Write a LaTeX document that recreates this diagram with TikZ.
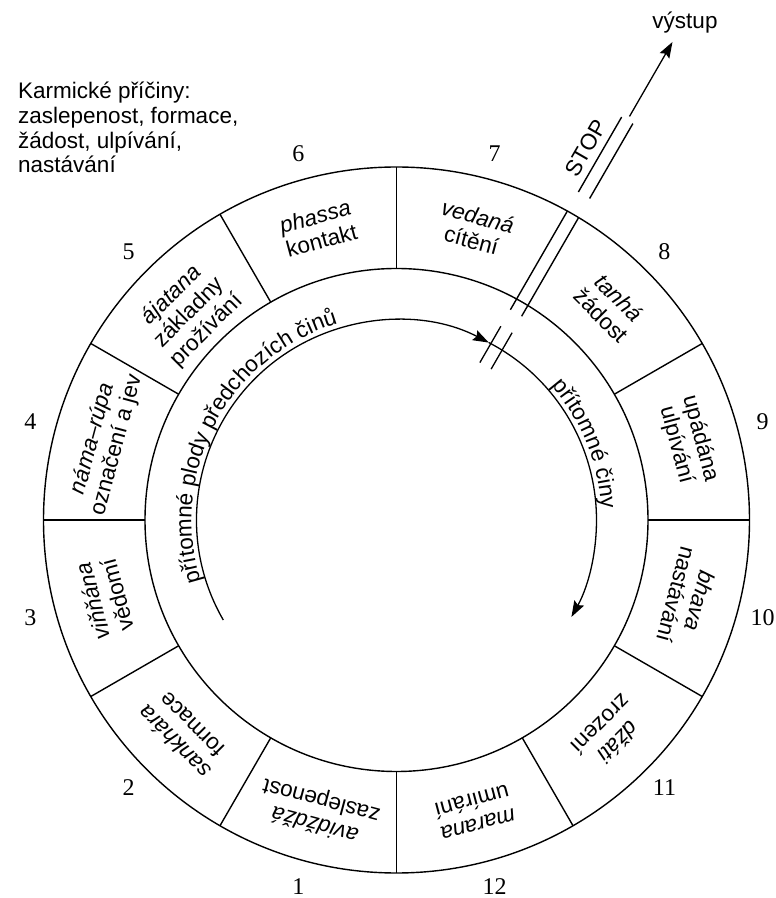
\documentclass[tikz,border=0pt]{standalone}
\usepackage{fontspec}
\setmainfont{Liberation Sans}
\newfontfamily\numfont{Liberation Serif}
\usetikzlibrary{arrows.meta,decorations.text}

\begin{document}
\begin{tikzpicture}[x=1pt,y=1pt,
  ring/.style={line width=1.4pt},
  lbl/.style={font=\fontsize{22.5}{24.7}\selectfont, align=center, inner sep=0pt},
  num/.style={font=\numfont\fontsize{24}{24}\selectfont, inner sep=0pt},
  tip/.style={-{Stealth[length=16pt,width=11pt,inset=2.5pt]}},
  cyc/.style={line width=1.3pt, tip},
]
\useasboundingbox (0,0) rectangle (776,898);

% caption in the upper left corner (base anchor sits on the last line)
\node[lbl, align=left, anchor=base west] (causes) at (18,725)
  {Karmické příčiny:\\zaslepenost, formace,\\žádost, ulpívání,\\nastávání};

\begin{scope}[shift={(396.5,378)}]
  % the wheel
  \draw[ring] (0,0) circle[radius=353];
  \draw[ring] (0,0) circle[radius=251.5];
  \foreach \a in {0,30,90,120,150,180,210,240,270,300,330}
    \draw[ring] (\a:251.5) -- (\a:353);

  % numbers of the links
  \foreach \k in {1,...,12}
    \node[num] (n\k) at ({255-30*(\k-1)}:379) {\k};

  % names of the links
  \node[lbl, rotate=165]  (s1)  at (255:302) {\textit{avidždžá}\\zaslepenost};
  \node[lbl, rotate=135]  (s2)  at (225:302) {\textit{sankhára}\\formace};
  \node[lbl, rotate=105]  (s3)  at (195:302) {\textit{viňňána}\\vědomí};
  \node[lbl, rotate=75]   (s4)  at (165:302) {\textit{náma–rúpa}\\označení a jev};
  \node[lbl, rotate=45]   (s5)  at (135:293) {\textit{ájatana}\\základny\\prožívání};
  \node[lbl, rotate=15]   (s6)  at (105:302) {\textit{phassa}\\kontakt};
  \node[lbl, rotate=-15]  (s7)  at (75:302)  {\textit{vedaná}\\cítění};
  \node[lbl, rotate=-45]  (s8)  at (45:302)  {\textit{tanhá}\\žádost};
  \node[lbl, rotate=-75]  (s9)  at (15:302)  {upádána\\ulpívání};
  \node[lbl, rotate=-105] (s10) at (-15:302) {\textit{bhava}\\nastávání};
  \node[lbl, rotate=-135] (s11) at (-45:302) {\textit{džáti}\\zrození};
  \node[lbl, rotate=-165] (s12) at (-75:302) {\textit{marana}\\umírání};

  % inner cycle of actions
  \draw[cyc] (210:200) arc[start angle=210, end angle=62.5, radius=200];
  \draw[cyc] (62.5:200) arc[start angle=62.5, end angle=-29, radius=200];
  \path[decorate, decoration={text along path, text align=center,
      text={|\fontsize{22.5}{24.7}\selectfont|přítomné plody předchozích činů}}]
    (212:205) arc[start angle=212, end angle=92, radius=205];
  \path[decorate, decoration={text along path, text align=center,
      text={|\fontsize{22.5}{24.7}\selectfont|přítomné činy}}]
    (50:205) arc[start angle=50, end angle=-6, radius=205];

  % the way out between links 7 and 8
  \begin{scope}[rotate=60]
    \draw[ring] (239,6.5) -- (353,6.5);
    \draw[ring] (239,-6.5) -- (353,-6.5);
    \draw[ring] (375,6.5) -- (461.5,6.5);
    \draw[ring] (375,-6.5) -- (461.5,-6.5);
    \draw[line width=1.3pt] (178,6.5) -- (220,6.5);
    \draw[line width=1.3pt] (178,-6.5) -- (220,-6.5);
    \coordinate (exitA) at (466,0);
    \coordinate (exitB) at (552,0);
    \draw[line width=1.3pt, tip] (exitA) -- (exitB);
    \node[lbl, rotate=60] (stop) at (417,22) {STOP};
  \end{scope}
\end{scope}

\node[lbl, anchor=base] (out) at (685,869) {výstup};
\end{tikzpicture}
\end{document}
